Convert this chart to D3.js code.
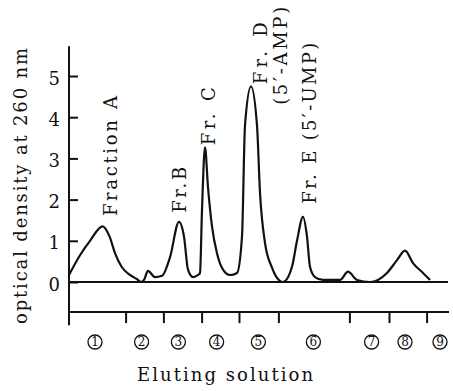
<!DOCTYPE html>
<html>
<head>
<meta charset="utf-8">
<script src="https://cdn.jsdelivr.net/npm/d3@7"></script>
<style>
  body { margin: 0; background: #fff; }
  svg text { font-family: "DejaVu Serif", "Liberation Serif", serif; fill: #111; }
</style>
</head>
<body>
<svg id="chart" width="453" height="391"></svg>
<script>
// elution profile (tube position vs optical density)
var elution = [0, 5.5, 10.5, 16.8, 20.3, 23, 26.3, 30.5, 34, 36, 37.5, 39.5, 43, 46.5, 50.5, 55, 57.5, 59.5, 62, 64.5,
  65.5, 66.5, 68, 69.5, 71.5, 74, 77, 80.5, 84, 86.5, 88, 91, 94, 95.5, 98, 101.5, 104, 107, 111.5, 114, 117, 119,
  120.5, 123, 127, 135.5, 139.5, 144, 150.5, 159, 164, 168, 172, 177, 180.5];
var density = [0.17, 0.65, 1.0, 1.35, 1.1, 0.7, 0.37, 0.17, 0.07, 0, 0.05, 0.27, 0.12, 0.15, 0.6, 1.46, 1.1, 0.3, 0.12, 0.17,
  0.22, 1.75, 3.27, 2.3, 1.35, 0.7, 0.3, 0.17, 0.22, 1.1, 3.8, 4.75, 3.8, 2.17, 0.95, 0.35, 0.1, 0, 0.37, 1.0, 1.58, 1.1,
  0.37, 0.12, 0.05, 0.05, 0.25, 0.05, 0, 0.22, 0.53, 0.76, 0.46, 0.22, 0.05];

var yTicks = [0, 1, 2, 3, 4, 5];
// boundaries between eluting solutions
var solutionBreaks = [28.3, 47.2, 66.3, 85, 104.7, 140.2, 160, 178.8];
var solutionLabels = ["1", "2", "3", "4", "5", "6", "7", "8", "9"];
var solutionCenters = [13, 36.3, 54.7, 73.8, 94.7, 122.2, 151.3, 168, 185.5];

var peakNames = ["Fraction A", "Fr.B", "Fr. C", "Fr. D", "(5\u2032-AMP)", "Fr. E (5\u2032-UMP)"];
var peakX = [24, 58.5, 73, 99, 109, 123.5];
var peakY = [1.6, 1.68, 3.32, 4.8, 4.3, 1.9];
var peakLen = [120, 46, 58, 62, 98, 161];

var svg = d3.select("#chart");

var x = d3.scaleLinear().domain([0, 190]).range([69, 449]);
var y = d3.scaleLinear().domain([0, 5]).range([282, 76]);

// y axis line and ticks
svg.append("line")
  .attr("x1", x(0)).attr("x2", x(0))
  .attr("y1", y(5.72)).attr("y2", y(-1.05))
  .attr("stroke", "#111").attr("stroke-width", 2);

var yAxis = svg.append("g")
  .attr("transform", "translate(" + x(0) + ",0)")
  .call(d3.axisLeft(y).tickValues(yTicks).tickSizeInner(-9).tickSizeOuter(0).tickPadding(9)
    .tickFormat(d3.format("d")));
yAxis.select(".domain").remove();
yAxis.selectAll(".tick line").attr("stroke", "#111").attr("stroke-width", 2);
yAxis.selectAll(".tick text")
  .attr("dy", "0.45em")
  .style("font-size", "18px")
  .style("font-family", "DejaVu Serif, serif")
  .attr("fill", "#111");

// zero line
svg.append("line")
  .attr("x1", x(0)).attr("x2", x(190) - 1)
  .attr("y1", y(0)).attr("y2", y(0))
  .attr("stroke", "#111").attr("stroke-width", 1.8);

// eluting solution bar
svg.append("line")
  .attr("x1", x(0)).attr("x2", x(190))
  .attr("y1", y(-0.73)).attr("y2", y(-0.73))
  .attr("stroke", "#111").attr("stroke-width", 2);

var xAxis = svg.append("g")
  .attr("transform", "translate(0," + y(-0.73) + ")")
  .call(d3.axisBottom(x).tickValues(solutionBreaks).tickSize(11).tickFormat(""));
xAxis.select(".domain").remove();
xAxis.selectAll(".tick line").attr("stroke", "#111").attr("stroke-width", 2);

// circled solution numbers
var sol = svg.append("g").selectAll("g")
  .data(solutionLabels)
  .enter().append("g")
  .attr("transform", function(d, i) { return "translate(" + x(solutionCenters[i]) + ",342)"; });
sol.append("circle").attr("r", 7).attr("fill", "none").attr("stroke", "#111").attr("stroke-width", 1.3);
sol.append("text")
  .attr("text-anchor", "middle")
  .attr("dy", "0.37em")
  .style("font-size", "12px")
  .text(function(d) { return d; });

// elution curve
var pts = elution.map(function(d, i) { return [d, density[i]]; });
var line = d3.line()
  .x(function(d) { return x(d[0]); })
  .y(function(d) { return y(d[1]); })
  .curve(d3.curveMonotoneX);

svg.append("path")
  .datum(pts)
  .attr("d", line)
  .attr("fill", "none")
  .attr("stroke", "#111")
  .attr("stroke-width", 2.2)
  .attr("stroke-linejoin", "round");

// peak labels (rotated)
svg.append("g").selectAll("text")
  .data(peakNames)
  .enter().append("text")
  .attr("transform", function(d, i) {
    return "translate(" + x(peakX[i]) + "," + y(peakY[i]) + ") rotate(-90)";
  })
  .attr("textLength", function(d, i) { return peakLen[i]; })
  .attr("lengthAdjust", "spacing")
  .style("font-size", "18px")
  .text(function(d) { return d; });

// axis titles
svg.append("text")
  .attr("transform", "translate(27,324) rotate(-90)")
  .attr("textLength", 276)
  .attr("lengthAdjust", "spacing")
  .style("font-size", "18px")
  .text("optical density at 260 nm");

svg.append("text")
  .attr("x", 137).attr("y", 381)
  .attr("textLength", 176)
  .attr("lengthAdjust", "spacing")
  .style("font-size", "18px")
  .text("Eluting solution");
</script>
</body>
</html>
